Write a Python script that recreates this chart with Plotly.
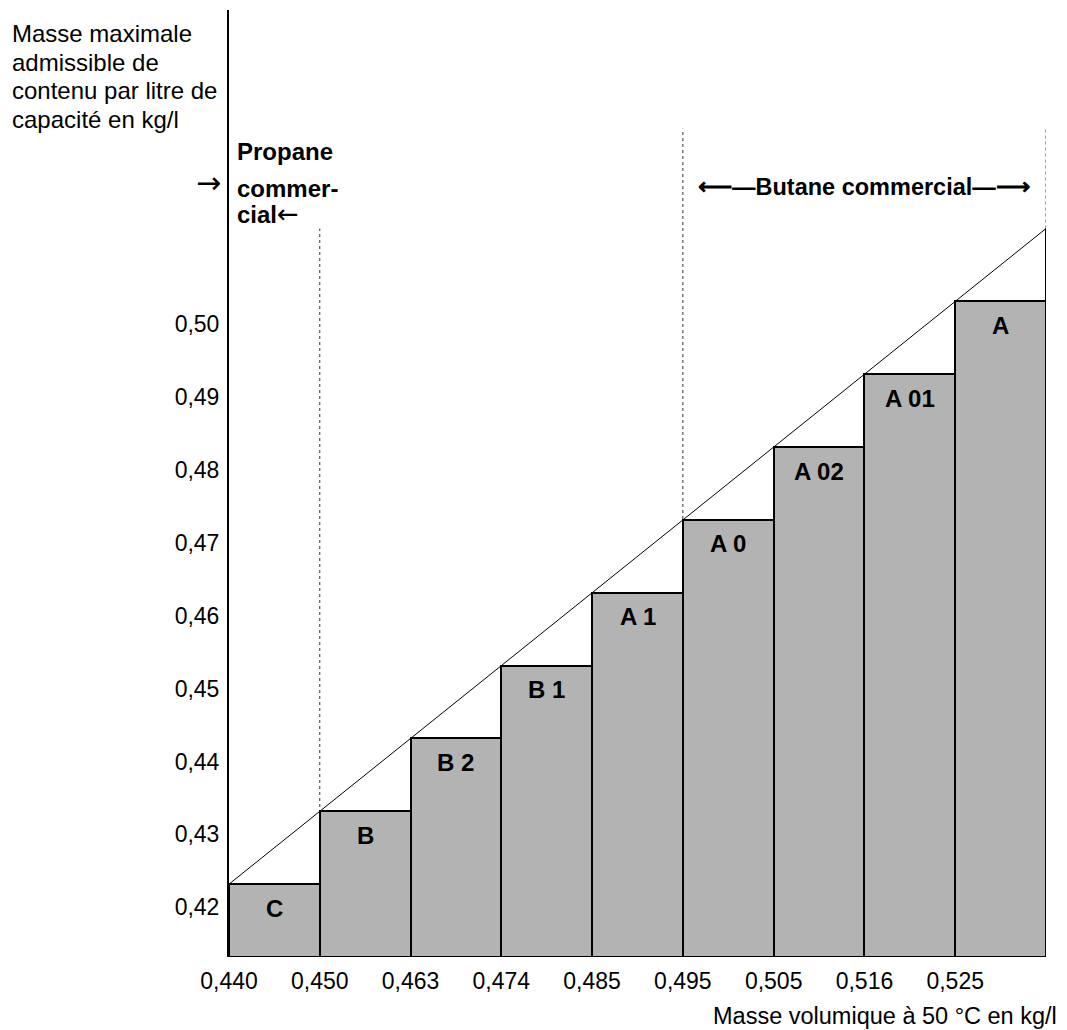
import plotly.graph_objects as go

# ---- data ----
categories = ["C", "B", "B 2", "B 1", "A 1", "A 0", "A 02", "A 01", "A"]
max_mass = [0.42, 0.43, 0.44, 0.45, 0.46, 0.47, 0.48, 0.49, 0.50]
density_labels = ["0,440", "0,450", "0,463", "0,474", "0,485", "0,495", "0,505", "0,516", "0,525"]
ytick_labels = ["0,42", "0,43", "0,44", "0,45", "0,46", "0,47", "0,48", "0,49", "0,50"]
y_title_lines = ["Masse maximale", "admissible de", "contenu par litre de", "capacité en kg/l"]
x_title = "Masse volumique à 50 °C en kg/l"

# ---- style / layout constants ----
BASE = 0.41
YTOP = 0.54
BUTANE_TOP = 0.5237
PROPANE_IDX = 1
BUTANE_IDX = 5
FONT = "Liberation Sans, Arial, sans-serif"
FS = 24       # text
FS_TICK = 23  # tick labels
OFF = 8                      # page body margin
W, H = 1059, 1022
ML, MR, MT, MB = 221, 21, 2, 73

n = len(categories)
centers = [i + 0.5 for i in range(n)]
step = max_mass[1] - max_mass[0]
line_end = max_mass[-1] + step

fig = go.Figure()

fig.add_trace(go.Bar(
    x=centers,
    y=[v - BASE for v in max_mass],
    base=BASE,
    width=1,
    marker=dict(color="#b3b3b3", line=dict(color="black", width=2)),
    hoverinfo="skip",
    showlegend=False,
))

# diagonal limit line through the upper left corners
fig.add_trace(go.Scatter(
    x=list(range(n)) + [n],
    y=max_mass + [line_end],
    mode="lines",
    line=dict(color="black", width=1),
    hoverinfo="skip",
    showlegend=False,
    cliponaxis=False,
))

dot = dict(color="#333333", width=1, dash="dot")
shapes = [
    dict(type="line", xref="x", yref="y", x0=n, x1=n, y0=max_mass[-1], y1=line_end,
         line=dict(color="black", width=2)),
    dict(type="line", xref="x", yref="y", x0=PROPANE_IDX, x1=PROPANE_IDX, y0=BASE, y1=line_end,
         line=dot, layer="below"),
    dict(type="line", xref="x", yref="y", x0=BUTANE_IDX, x1=BUTANE_IDX, y0=BASE, y1=BUTANE_TOP,
         line=dot, layer="below"),
    dict(type="line", xref="x", yref="y", x0=n, x1=n, y0=line_end, y1=BUTANE_TOP,
         line=dot, layer="below"),
]

annotations = []
for c, v, xc in zip(categories, max_mass, centers):
    annotations.append(dict(
        x=xc, y=v, xref="x", yref="y", text="<b>%s</b>" % c, showarrow=False,
        yshift=-24, yanchor="middle", xanchor="center",
        font=dict(family=FONT, size=FS, color="black"),
    ))

def px_to_paper_x(px):
    return (px - OFF - ML) / (W - ML - MR)

def px_to_paper_y(py):
    return (H - MB - (py - OFF)) / (H - MT - MB)

def text_ann(txt, xpx, ypx, xanchor="left", size=FS, family=FONT, height=None):
    d = dict(x=px_to_paper_x(xpx), y=px_to_paper_y(ypx), xref="paper", yref="paper",
             text=txt, showarrow=False, xanchor=xanchor, yanchor="middle", align="left",
             font=dict(family=family, size=size, color="black"))
    if height is not None:
        d["height"] = height
        d["valign"] = "middle"
    return d

for line, ypx in zip(y_title_lines, [34, 62, 91, 119]):
    annotations.append(text_ann(line, 10, ypx, height=27))

annotations += [
    text_ann("→", 208, 182, xanchor="center", size=30, family="DejaVu Sans", height=24),
    text_ann("<b>Propane</b>", 235, 151),
    text_ann("<b>commer-</b>", 235, 188, height=22),
    text_ann("<b>cial</b><span style='font-family:DejaVu Sans;font-size:26px'>←</span>", 235, 214,
             height=22),
    text_ann("<b>⟵—Butane commercial—⟶</b>", 864, 187, xanchor="center", size=23.5),
    text_ann(x_title, 1059, 1016, xanchor="right", size=23.5),
]

fig.update_layout(
    width=W, height=H,
    margin=dict(l=ML, r=MR, t=MT, b=MB, pad=0),
    paper_bgcolor="white", plot_bgcolor="white",
    shapes=shapes, annotations=annotations,
    font=dict(family=FONT, size=FS, color="black"),
    bargap=0,
    xaxis=dict(range=[0, n], tickvals=list(range(n)), ticktext=density_labels,
               showgrid=False, zeroline=False, showline=False, ticks="",
               ticklabelstandoff=8,
               tickfont=dict(family=FONT, size=FS_TICK, color="black")),
    yaxis=dict(range=[BASE, YTOP], tickvals=max_mass, ticktext=ytick_labels,
               showgrid=False, zeroline=False, showline=True, linecolor="black", linewidth=2,
               ticks="", ticklabelshift=23, ticklabelstandoff=3,
               tickfont=dict(family=FONT, size=FS_TICK, color="black")),
)

fig.write_html("out.html")
